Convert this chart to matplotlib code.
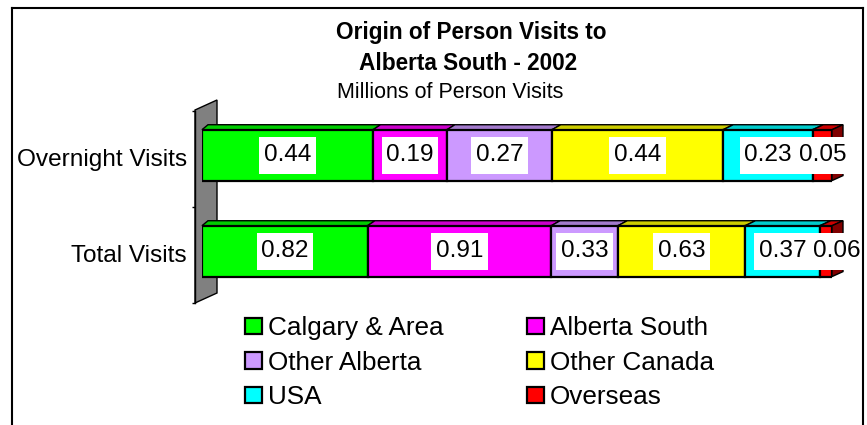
import matplotlib
matplotlib.use("Agg")
import matplotlib.pyplot as plt
from matplotlib.patches import Polygon
from matplotlib.lines import Line2D
from matplotlib.path import Path
import numpy as np

plt.rcParams['font.family'] = ['Liberation Sans', 'DejaVu Sans']

# ---- data ----
categories = ["Total Visits", "Overnight Visits"]          # bottom -> top
origins = ["Calgary & Area", "Alberta South", "Other Alberta",
           "Other Canada", "USA", "Overseas"]
overnight = [0.44, 0.19, 0.27, 0.44, 0.23, 0.05]
total = [0.82, 0.91, 0.33, 0.63, 0.37, 0.06]
colors = ["#00FF00", "#FF00FF", "#CC99FF", "#FFFF00", "#00FFFF", "#FF0000"]

title1 = "Origin of Person Visits to"
title2 = "Alberta South - 2002"
subtitle = "Millions of Person Visits"

# ---- figure ----
W, H = 867, 425
fig = plt.figure(figsize=(W / 100, H / 100), dpi=100)

def fx(px):
    return px / W

def fy(py):
    return 1 - py / H

# chart border (bottom edge cut off)
for xs, ys in [((11.5, 11.5), (H + 5, 7.7)), ((11.5, 863), (7.7, 7.7)), ((863, 863), (7.7, H + 5))]:
    fig.add_artist(Line2D([fx(x) for x in xs], [fy(y) for y in ys], color="black", lw=1.5))

# plot area (front face of bars spans 202..832 px, category axis 111..303 px)
ax_l, ax_r, ax_t, ax_b = 202, 832, 111, 303
ax = fig.add_axes([fx(ax_l), fy(ax_b), fx(ax_r - ax_l), (ax_b - ax_t) / H])
ax.set_xlim(0, 1)
ax.set_ylim(0, 2)
ppx = 1 / (ax_r - ax_l)          # data units per pixel (x)
ppy = 2 / (ax_b - ax_t)          # data units per pixel (y)

def dxp(x):                       # perspective depth offset in pixels
    return 6 + 5 * x

# back wall
wall_px = [(195, 110), (217, 100), (217, 293), (195, 303)]
wall = Polygon([((px - ax_l) * ppx, (ax_b - py) * ppy) for px, py in wall_px],
               closed=True, facecolor="#808080", edgecolor="black", lw=1.0,
               clip_on=False, zorder=0.5)
ax.add_patch(wall)

shares_total = np.array(total) / sum(total)
shares_over = np.array(overnight) / sum(overnight)
ypos = np.array([0.5, 1.5]) + 0.04
bh = 0.53
dy = 5 * ppy

def shade(c, f):
    rgb = np.array(matplotlib.colors.to_rgb(c))
    return tuple(rgb * f)

def label_box(x0, y0, width, height, mutation_size):
    hp, vp = 4.5, 7.5
    x0, y0 = x0 - hp, y0 - vp
    x1, y1 = x0 + width + 2 * hp, y0 + height + 2 * vp
    return Path([(x0, y0), (x1, y0), (x1, y1), (x0, y1), (x0, y0)], closed=True)

left = np.zeros(2)
handles = []
last_label_right = [-1e9, -1e9]
label_w = 54 * ppx
for i, (name, col) in enumerate(zip(origins, colors)):
    widths = np.array([shares_total[i], shares_over[i]])
    bars = ax.barh(ypos, widths, left=left, height=bh, color=col,
                   edgecolor="black", lw=1.6, label=name, zorder=2)
    handles.append(bars)
    for j in range(2):
        x0, x1 = left[j], left[j] + widths[j]
        ytop = ypos[j] + bh / 2
        ybot = ypos[j] - bh / 2
        top = Polygon([(x0, ytop), (x1, ytop),
                       (x1 + dxp(x1) * ppx, ytop + dy),
                       (x0 + dxp(x0) * ppx, ytop + dy)],
                      closed=True, facecolor=shade(col, 0.8), edgecolor="black",
                      lw=1.0, clip_on=False, zorder=1.5)
        ax.add_patch(top)
        if i == len(origins) - 1:
            side = Polygon([(x1, ybot), (x1, ytop),
                            (x1 + dxp(x1) * ppx, ytop + dy),
                            (x1 + dxp(x1) * ppx, ybot + dy)],
                           closed=True, facecolor=shade(col, 0.5), edgecolor="black",
                           lw=1.0, clip_on=False, zorder=1.5)
            ax.add_patch(side)
    # value labels (pushed right if they would overlap the previous label)
    vals = [total[i], overnight[i]]
    for j in range(2):
        cx = left[j] + widths[j] / 2
        cx = max(cx, last_label_right[j] + label_w / 2)
        last_label_right[j] = cx + label_w / 2
        ax.text(cx, ypos[j], f"{vals[j]:.2f}", ha="center", va="center",
                fontsize=17.6, color="black", zorder=5, clip_on=False,
                bbox=dict(boxstyle=label_box, facecolor="white", edgecolor="none"))
    left = left + widths

# axes styling
for s in ["top", "right", "bottom"]:
    ax.spines[s].set_visible(False)
ax.spines["left"].set_position(("data", (195 - ax_l) * ppx))
ax.spines["left"].set_linewidth(1.0)
ax.set_xticks([])
ax.set_yticks([0, 1, 2])
ax.set_yticklabels([])
ax.tick_params(axis="y", which="major", length=2.5, width=1.0, direction="out")
ax.set_yticks(ypos - 0.02, minor=True)
ax.set_yticklabels(categories, minor=True, fontsize=17.6)
ax.tick_params(axis="y", which="minor", length=0, pad=5.8)
ax.patch.set_visible(False)

# titles
fig.text(fx(471), fy(32), title1, ha="center", va="center", fontsize=16.3, fontweight="bold")
fig.text(fx(468), fy(63), title2, ha="center", va="center", fontsize=16.3, fontweight="bold")
fig.text(fx(450), fy(93), subtitle, ha="center", va="center", fontsize=15.5)

# legend (column-wise order)
order = [0, 2, 4, 1, 3, 5]
fig.legend([handles[k] for k in order], [origins[k] for k in order],
           ncol=2, loc="upper left", bbox_to_anchor=(fx(245), fy(316)),
           frameon=False, fontsize=18.8, handlelength=0.65, handleheight=0.58,
           handletextpad=0.23, columnspacing=3.2, labelspacing=0.41,
           borderpad=0, borderaxespad=0)

fig.savefig("out.png", dpi=100)
